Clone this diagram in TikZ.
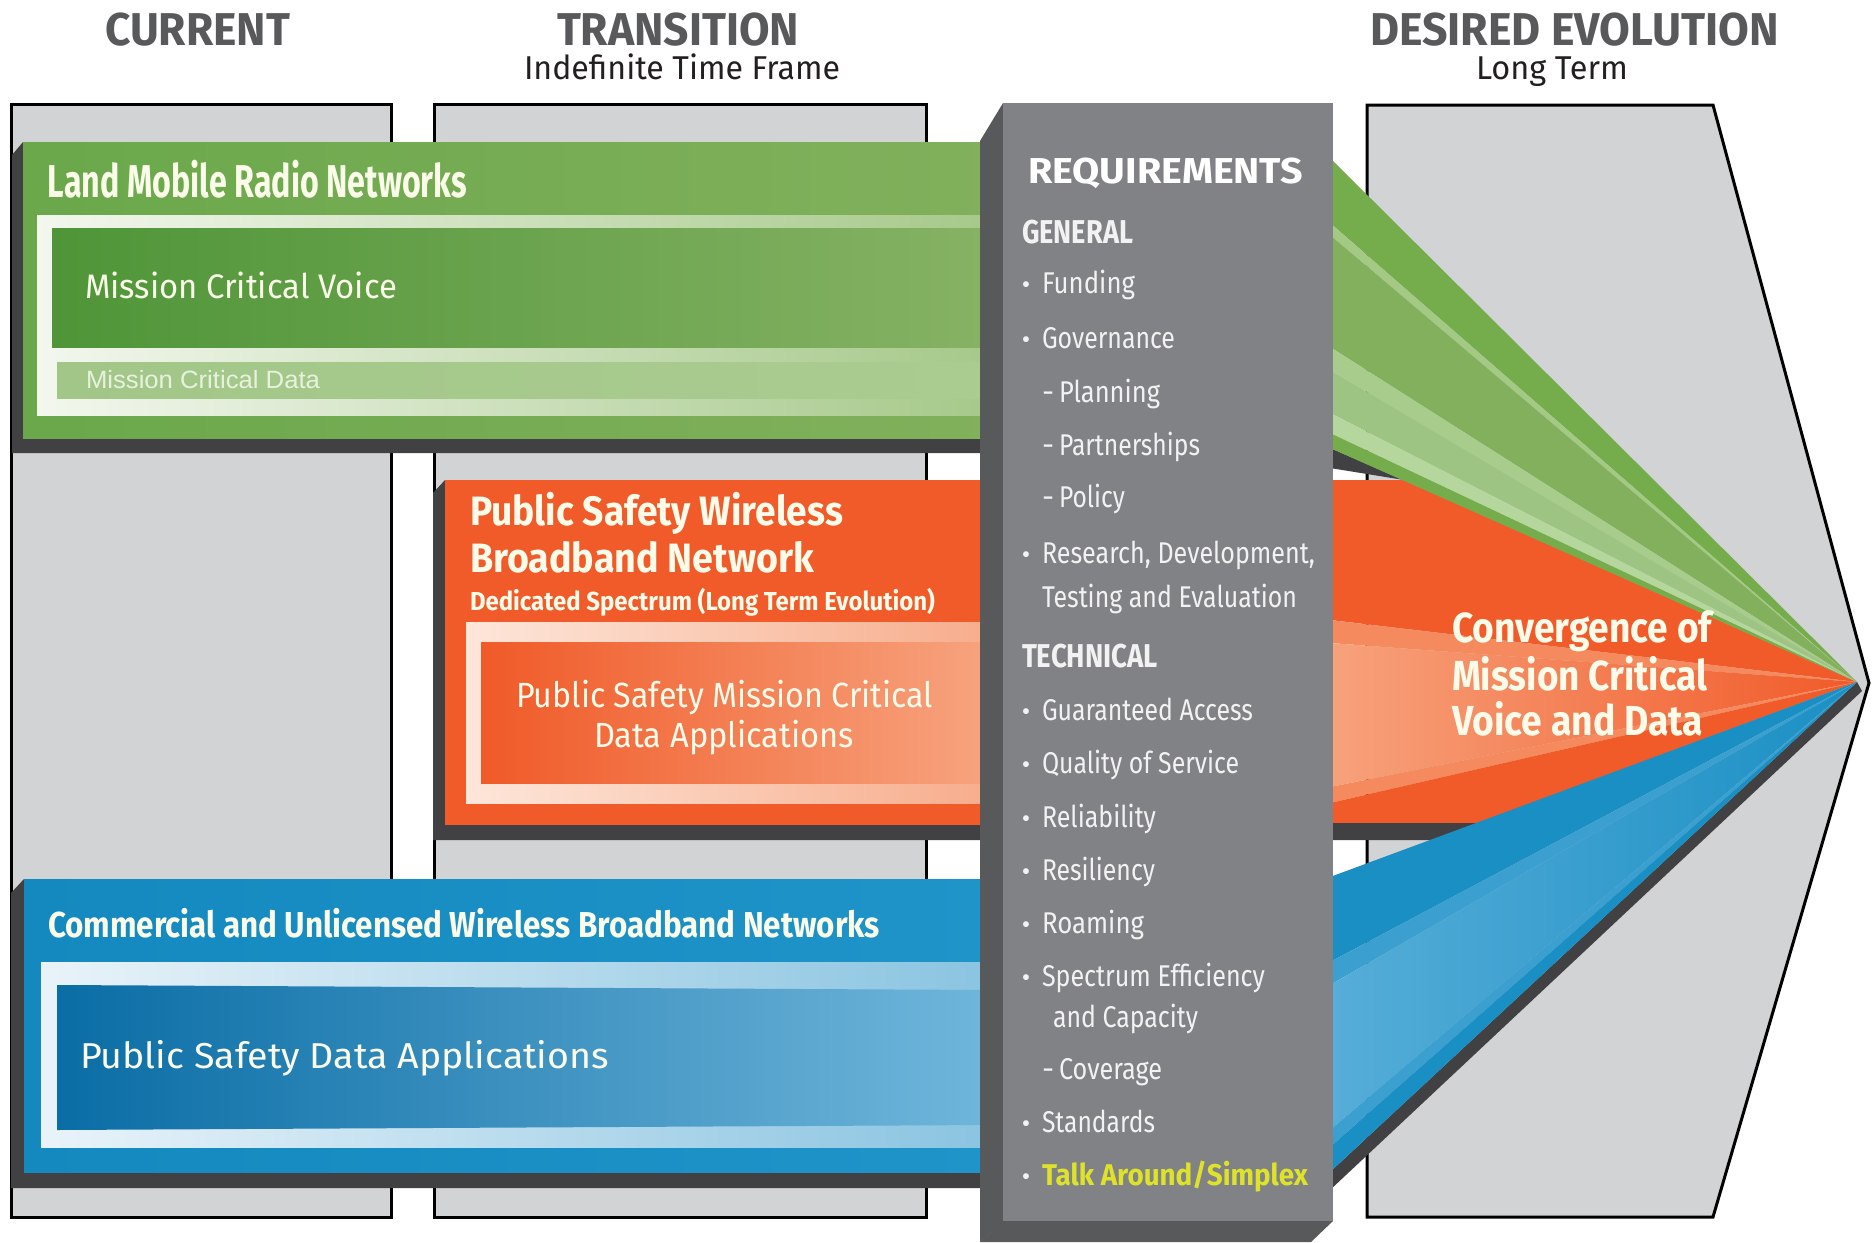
\documentclass[tikz,border=0pt]{standalone}
\usepackage{fontspec}
\usepackage{graphicx}
\newfontfamily\fira{Fira Sans}
\newfontfamily\libs{Liberation Sans}
\makeatletter
\newsavebox\hfbox
\newlength\hftarget
\newcommand\hfit[2]{\sbox\hfbox{#2}\setlength\hftarget{#1}\scalebox{\strip@pt\dimexpr 1pt*\hftarget/\wd\hfbox\relax}[1]{\usebox\hfbox}}
\makeatother
\newcommand\fsz[1]{\fontsize{#1}{#1}\selectfont}
\definecolor{hdrgray}{HTML}{58595B}
\definecolor{subgray}{HTML}{231F20}
\definecolor{colgray}{HTML}{D1D3D4}
\definecolor{reqfront}{HTML}{808285}
\definecolor{reqside}{HTML}{58595B}
\definecolor{shadowc}{HTML}{414042}
\definecolor{cream}{HTML}{FBFBEA}
\definecolor{reqtxt}{HTML}{F2F2F2}
\definecolor{yel}{HTML}{DEE22A}
\definecolor{gbandL}{HTML}{6AA84B}
\definecolor{gbandR}{HTML}{82B05C}
\definecolor{gfrL}{HTML}{F3F7EE}
\definecolor{gfrR}{HTML}{A6C98A}
\definecolor{gvL}{HTML}{4F9538}
\definecolor{gvR}{HTML}{86B264}
\definecolor{gdL}{HTML}{A2C688}
\definecolor{gdR}{HTML}{ABCC91}
\definecolor{gdtxt}{HTML}{E8F1DE}
\definecolor{g1}{HTML}{76AD4C}
\definecolor{g2}{HTML}{A3C985}
\definecolor{g3}{HTML}{82B05C}
\definecolor{g4}{HTML}{A8CC8C}
\definecolor{g5}{HTML}{9DC482}
\definecolor{g6}{HTML}{B5D69C}
\definecolor{oband}{HTML}{F15A29}
\definecolor{ofrL}{HTML}{FDE6DA}
\definecolor{ofrR}{HTML}{F7AD8C}
\definecolor{oinL}{HTML}{F05A28}
\definecolor{oinR}{HTML}{F7A47F}
\definecolor{ostripe}{HTML}{F48A5E}
\definecolor{olight}{HTML}{F7A27C}
\definecolor{bbandL}{HTML}{1489BF}
\definecolor{bbandR}{HTML}{1E94C9}
\definecolor{bfrL}{HTML}{E9F3F9}
\definecolor{bfrR}{HTML}{8AC4E1}
\definecolor{binL}{HTML}{0A6DA5}
\definecolor{binR}{HTML}{70B6DB}
\definecolor{b1}{HTML}{1A8FC4}
\definecolor{b2}{HTML}{3B9FD0}
\definecolor{b3}{HTML}{56ADD8}
\tikzset{
  lbl/.style={inner sep=0pt, outer sep=0pt, anchor=base west},
  col/.style={fill=colgray, draw=black, line width=3pt},
  hdr/.style={lbl, text=hdrgray},
  sub/.style={lbl, text=subgray},
  wt/.style={lbl, text=cream},
  rq/.style={lbl, text=reqtxt},
  bul/.style={inner sep=0pt, outer sep=0pt, anchor=base, text=reqtxt}
}
\begin{document}
\begin{tikzpicture}[x=1pt,y=-1pt]
\useasboundingbox (0,0) rectangle (1876,1242);
\fill[white] (0,0) rectangle (1876,1242);
% columns
\path[col] (11,104) rectangle (391,1217);
\path[col] (434,104) rectangle (926,1217);
\path[col] (1367,105) -- (1713,105) -- (1869,683) -- (1713,1217) -- (1367,1217) -- cycle;
% green band
\fill[shadowc] (23,142) -- (12,155) -- (12,453) -- (990,453) -- (990,142) -- cycle;
\shade[left color=gbandL, right color=gbandR] (23,142) rectangle (990,438);
\shade[left color=gfrL, right color=gfrR] (37,215) rectangle (990,415);
\shade[left color=gvL, right color=gvR] (52,228) rectangle (990,347);
\shade[left color=gdL, right color=gdR] (57,362) rectangle (990,398);
% orange band
\fill[shadowc] (445,480) -- (433,493) -- (433,840) -- (990,840) -- (990,480) -- cycle;
\fill[oband] (445,480) rectangle (990,825);
\shade[left color=ofrL, right color=ofrR] (466,622) rectangle (990,803);
\shade[left color=oinL, right color=oinR] (481,642) rectangle (990,783);
% blue band
\fill[shadowc] (24,879) -- (11,893) -- (11,1188) -- (990,1188) -- (990,879) -- cycle;
\shade[left color=bbandL, right color=bbandR] (24,879) rectangle (990,1172);
\shade[left color=bfrL, right color=bfrR] (41,962) rectangle (990,1147);
\shade[left color=binL, right color=binR] (57,985) -- (990,990) -- (990,1125) -- (57,1130) -- cycle;
% right wedges: orange
\coordinate (T) at (1857,682);
\fill[oband] (1330,480) -- (1404,480) -- (T) -- (1330,620) -- cycle;
\fill[ostripe] (1330,620) -- (T) -- (1330,643) -- cycle;
\shade[left color=olight, right color=oband] (1330,643) -- (T) -- (1330,787) -- cycle;
\fill[ostripe] (1330,787) -- (T) -- (1330,803) -- cycle;
\fill[oband] (1330,803) -- (T) -- (1478,823) -- (1330,823) -- cycle;
\fill[shadowc] (1330,823) -- (1478,823) -- (1432,840) -- (1330,840) -- cycle;
% blue wedge
\fill[shadowc] (1330,1172) -- (T) -- (1862,691) -- (1330,1190) -- cycle;
\fill[b1] (1330,877) -- (T) -- (1330,962) -- cycle;
\fill[b2] (1330,962) -- (T) -- (1330,985) -- cycle;
\shade[left color=b3, right color=b1] (1330,985) -- (T) -- (1330,1130) -- cycle;
\fill[b2] (1330,1130) -- (T) -- (1330,1147) -- cycle;
\fill[b1] (1330,1147) -- (T) -- (1330,1172) -- cycle;
% green wedge
\fill[shadowc] (1330,448) -- (1404,480) -- (1330,468) -- cycle;
\fill[g1] (1330,158) -- (T) -- (1330,223) -- cycle;
\fill[g2] (1330,223) -- (T) -- (1330,235) -- cycle;
\fill[g3] (1330,235) -- (T) -- (1330,347) -- cycle;
\fill[g4] (1330,347) -- (T) -- (1330,370) -- cycle;
\fill[g5] (1330,370) -- (T) -- (1330,413) -- cycle;
\fill[g6] (1330,413) -- (T) -- (1330,433) -- cycle;
\fill[g1] (1330,433) -- (T) -- (1330,448) -- cycle;
% requirements column
\fill[reqside] (980,141) -- (1003,103) -- (1003,1222) -- (980,1242) -- cycle;
\fill[reqfront] (1003,103) rectangle (1333,1221);
\fill[reqside] (980,1242) -- (1003,1221) -- (1333,1221) -- (1311,1242) -- cycle;
% headers
\node[hdr] (hcur) at (105,45) {\hfit{185pt}{\fira\bfseries\fsz{46}CURRENT}};
\node[hdr] (htra) at (557,45) {\hfit{242pt}{\fira\bfseries\fsz{46}TRANSITION}};
\node[hdr] (hdes) at (1370,45) {\hfit{409pt}{\fira\bfseries\fsz{46}DESIRED EVOLUTION}};
\node[sub] (htras) at (524,79) {\hfit{316pt}{\fira\fsz{33}Indefinite Time Frame}};
\node[sub] (hdess) at (1476,79) {\hfit{152pt}{\fira\fsz{33}Long Term}};
% green texts
\node[wt] (lmr) at (48,197) {\hfit{419pt}{\fira\bfseries\fsz{46}Land Mobile Radio Networks}};
\node[wt] (mcv) at (85,298) {\hfit{312pt}{\fira\fsz{34}Mission Critical Voice}};
\node[lbl, text=gdtxt] (mcd) at (86,388) {\hfit{234pt}{\libs\fsz{25}Mission Critical Data}};
% orange texts
\node[wt] (psw1) at (470,525) {\hfit{373pt}{\fira\bfseries\fsz{41}Public Safety Wireless}};
\node[wt] (psw2) at (470,572) {\hfit{344pt}{\fira\bfseries\fsz{41}Broadband Network}};
\node[wt] (psw3) at (470,610) {\hfit{465pt}{\fira\bfseries\fsz{26}Dedicated Spectrum (Long Term Evolution)}};
\node[wt] (psm1) at (516,707) {\hfit{417pt}{\fira\fsz{35}Public Safety Mission Critical}};
\node[wt] (psm2) at (594,747) {\hfit{260pt}{\fira\fsz{35}Data Applications}};
% blue texts
\node[wt] (cuw) at (48,937) {\hfit{832pt}{\fira\bfseries\fsz{36}Commercial and Unlicensed Wireless Broadband Networks}};
\node[wt] (psd) at (80,1068) {\hfit{529pt}{\fira\fsz{36}Public Safety Data Applications}};
% convergence
\node[wt] (conv1) at (1452,642) {\hfit{260pt}{\fira\bfseries\fsz{42}Convergence of}};
\node[wt] (conv2) at (1452,690) {\hfit{255pt}{\fira\bfseries\fsz{42}Mission Critical}};
\node[wt] (conv3) at (1452,735) {\hfit{251pt}{\fira\bfseries\fsz{42}Voice and Data}};
% requirements
\node[lbl, text=white] (rqh) at (1028,183) {\hfit{275pt}{\fira\bfseries\fsz{36}REQUIREMENTS}};
\node[rq] (rgen) at (1022,243) {\hfit{111pt}{\fira\bfseries\fsz{33}GENERAL}};
\node[rq] (r1) at (1042,293) {\hfit{93pt}{\fira\fsz{30}Funding}};
\node[rq] (r2) at (1042,348) {\hfit{133pt}{\fira\fsz{30}Governance}};
\node[rq] (r3) at (1059,402) {\hfit{101pt}{\fira\fsz{30}Planning}};
\node[rq] (r4) at (1059,455) {\hfit{141pt}{\fira\fsz{30}Partnerships}};
\node[rq] (r5) at (1059,507) {\hfit{66pt}{\fira\fsz{30}Policy}};
\node[rq] (r6) at (1042,563) {\hfit{273pt}{\fira\fsz{30}Research, Development,}};
\node[rq] (r7) at (1042,607) {\hfit{255pt}{\fira\fsz{30}Testing and Evaluation}};
\node[rq] (rtec) at (1022,667) {\hfit{136pt}{\fira\bfseries\fsz{33}TECHNICAL}};
\node[rq] (t1) at (1042,720) {\hfit{211pt}{\fira\fsz{30}Guaranteed Access}};
\node[rq] (t2) at (1042,773) {\hfit{197pt}{\fira\fsz{30}Quality of Service}};
\node[rq] (t3) at (1042,827) {\hfit{114pt}{\fira\fsz{30}Reliability}};
\node[rq] (t4) at (1042,880) {\hfit{113pt}{\fira\fsz{30}Resiliency}};
\node[rq] (t5) at (1042,933) {\hfit{102pt}{\fira\fsz{30}Roaming}};
\node[rq] (t6) at (1042,986) {\hfit{223pt}{\fira\fsz{30}Spectrum Efficiency}};
\node[rq] (t7) at (1053,1027) {\hfit{145pt}{\fira\fsz{30}and Capacity}};
\node[rq] (t8) at (1059,1079) {\hfit{103pt}{\fira\fsz{30}Coverage}};
\node[rq] (t9) at (1042,1132) {\hfit{113pt}{\fira\fsz{30}Standards}};
\node[lbl, text=yel] (t10) at (1042,1185) {\hfit{266pt}{\fira\bfseries\fsz{30}Talk Around/Simplex}};
% bullets and dashes
\foreach \yy/\nm in {293/a,348/b,563/c,720/d,773/e,827/f,880/g,933/h,986/i,1132/j,1185/k}
  \node[bul] (bul\nm) at (1026,\yy) {\fira\fsz{26}•};
\foreach \yy/\nm in {402/a,455/b,507/c,1079/d}
  \node[rq] (dash\nm) at (1042,\yy) {\fira\fsz{30}-};
\end{tikzpicture}
\end{document}
